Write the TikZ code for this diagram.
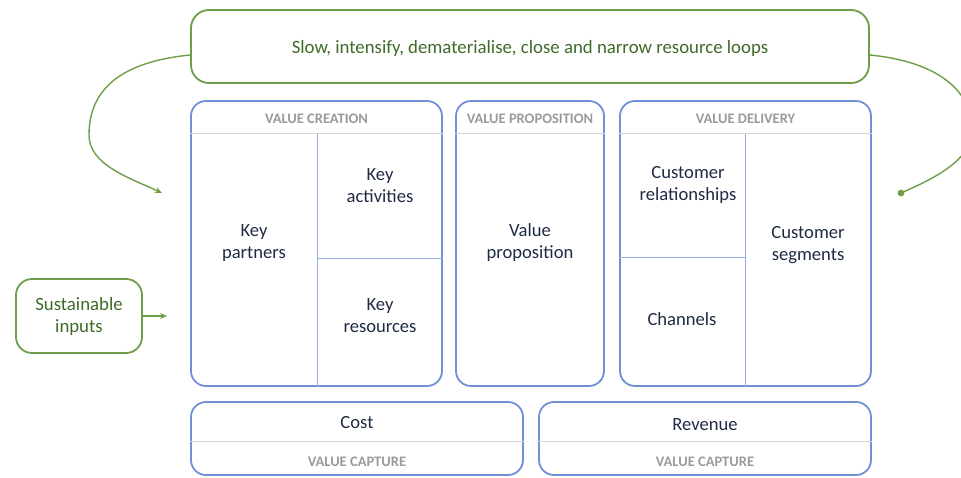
\documentclass[tikz,border=0pt]{standalone}
\usepackage{fontspec}
\setmainfont{Carlito}
\usetikzlibrary{arrows.meta}
\definecolor{grn}{HTML}{6E9E48}
\definecolor{grntxt}{HTML}{3F6A28}
\definecolor{blu}{HTML}{7090D8}
\definecolor{navy}{HTML}{1F2A44}
\definecolor{hdrgray}{HTML}{9A9A9A}
\definecolor{linegray}{HTML}{D4D4D4}
\tikzset{
  greenbox/.style={draw=grn, line width=1.8pt, rounded corners=18pt, text=grntxt, font=\fontsize{18.8}{22}\selectfont, align=center, inner sep=0pt},
  bluebox/.style={draw=blu, line width=1.8pt, rounded corners=15pt, inner sep=0pt},
  body/.style={text=navy, font=\fontsize{18.6}{22}\selectfont, align=center},
  hdr/.style={text=hdrgray, font=\fontsize{14.5}{16}\selectfont\bfseries},
  hline/.style={draw=linegray, line width=1.2pt},
  divline/.style={draw=blu!75, line width=1pt},
  conn/.style={draw=grn, line width=1.4pt},
}
\begin{document}
\begin{tikzpicture}[x=1pt,y=-1pt]
\useasboundingbox (0,0) rectangle (961,477);
\clip (0,0) rectangle (961,477);
% green boxes
\node[greenbox, minimum width=678pt, minimum height=73pt] (loops) at (530,46.5) {};
\node[greenbox, rounded corners=16pt, minimum width=126pt, minimum height=74pt] (si) at (79,316) {};
\node[greenbox, draw=none] (loopst) at (530,48) {Slow, intensify, dematerialise, close and narrow resource loops};
\node[greenbox, draw=none] (sit) at (79,316.5) {Sustainable\\inputs};
% blue boxes
\node[bluebox, minimum width=251pt, minimum height=285pt] (vc) at (316.5,243.5) {};
\node[bluebox, minimum width=148pt, minimum height=285pt] (vp) at (530,243.5) {};
\node[bluebox, minimum width=251pt, minimum height=285pt] (vd) at (745.5,243.5) {};
\node[bluebox, minimum width=332pt, minimum height=73pt] (cost) at (357,438.5) {};
\node[bluebox, minimum width=332pt, minimum height=73pt] (rev) at (705,438.5) {};
% header lines
\draw[hline] (vc.west |- 0,133.5) -- (vc.east |- 0,133.5);
\draw[hline] (vp.west |- 0,133.5) -- (vp.east |- 0,133.5);
\draw[hline] (vd.west |- 0,133.5) -- (vd.east |- 0,133.5);
\draw[hline] (cost.west |- 0,441.5) -- (cost.east |- 0,441.5);
\draw[hline] (rev.west |- 0,441.5) -- (rev.east |- 0,441.5);
% dividers
\draw[divline] (317,134) -- (317,0 |- vc.south);
\draw[divline] (317,258.5) -- (vc.east |- 0,258.5);
\draw[divline] (745,134) -- (745,0 |- vd.south);
\draw[divline] (vd.west |- 0,257.5) -- (745,257.5);
% headers
\node[hdr] (hvc) at (316.5,118.5) {VALUE CREATION};
\node[hdr] (hvp) at (530,118.5) {VALUE PROPOSITION};
\node[hdr] (hvd) at (745.5,118.5) {VALUE DELIVERY};
\node[hdr] (hcost) at (357,461.5) {VALUE CAPTURE};
\node[hdr] (hrev) at (705,461.5) {VALUE CAPTURE};
% body text
\node[body] (kp) at (254,243) {Key\\partners};
\node[body] (ka) at (380,186) {Key\\activities};
\node[body] (kr) at (380,316) {Key\\resources};
\node[body] (vpt) at (530,243) {Value\\proposition};
\node[body] (cr) at (688,185) {Customer\\relationships};
\node[body] (ch) at (682,319) {Channels};
\node[body] (cs) at (808,245) {Customer\\segments};
\node[body] (ct) at (357,423) {Cost};
\node[body] (rt) at (705,425) {Revenue};
% connectors
\coordinate (lend) at (162,193);
\coordinate (rend) at (901,193);
\coordinate (siend) at (167,316);
\draw[conn, -{Stealth[length=7pt,width=6pt]}] ([yshift=-8.5pt]loops.west) .. controls (120,62) and (89,90) .. (89,135) .. controls (89,165) and (130,178) .. (lend);
\draw[conn] ([yshift=-8.5pt]loops.east) .. controls (940,62) and (972,92) .. (972,130) .. controls (972,160) and (935,178) .. (rend);
\fill[grn] (rend) circle (3.4pt);
\draw[conn, line width=1.1pt, -{Stealth[length=7pt,width=6pt]}] (si.east) -- (siend);
\end{tikzpicture}
\end{document}
